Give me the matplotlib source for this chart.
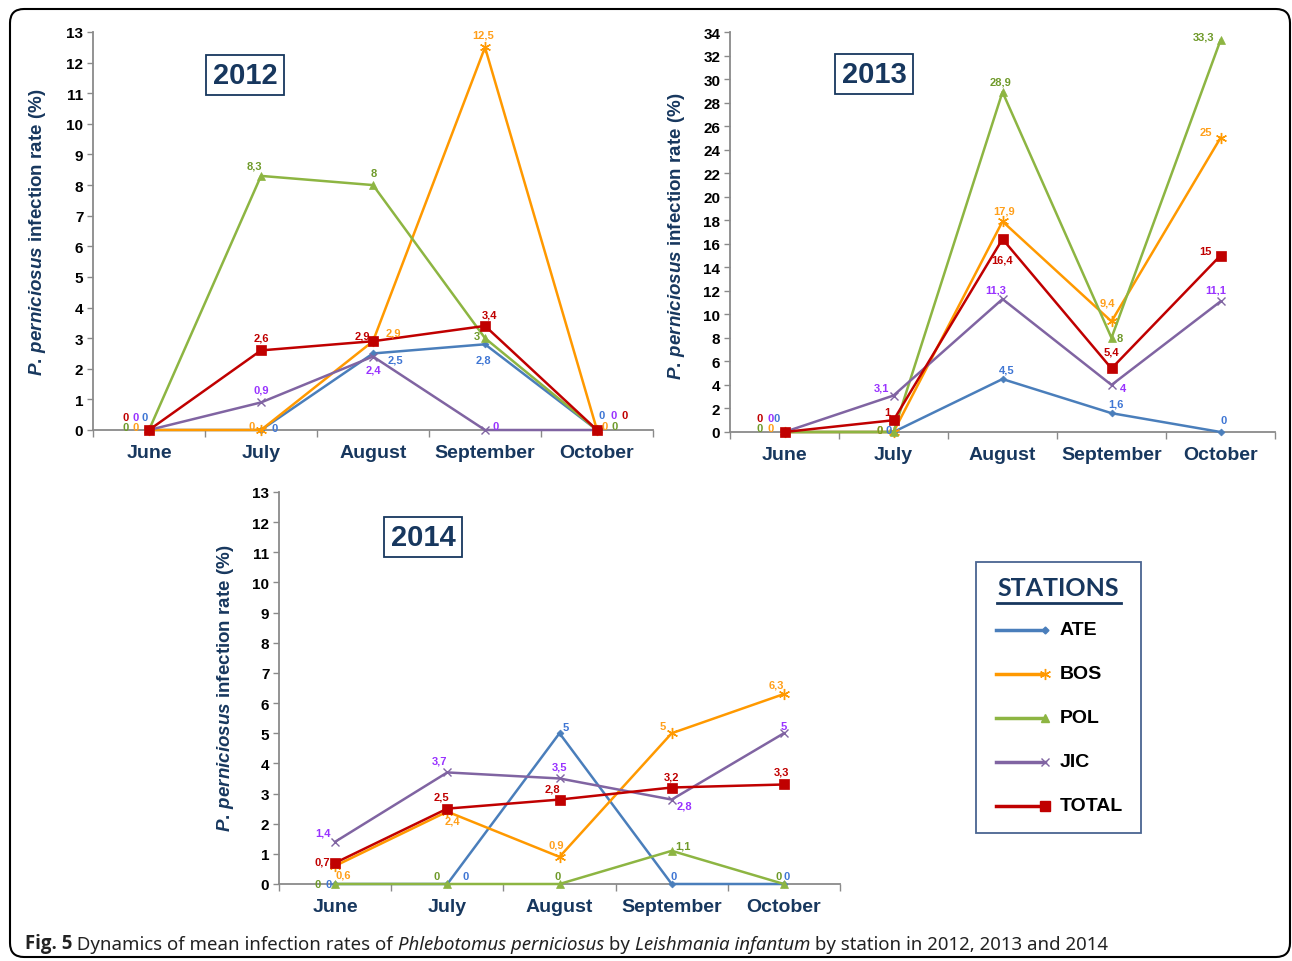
"""
Mean infection rates of P. perniciosus by station, 2012-2014 (three panels + legend).
"""
import matplotlib
import matplotlib.pyplot as plt
from matplotlib.lines import Line2D
from matplotlib.patches import FancyBboxPatch, Rectangle
from matplotlib.transforms import IdentityTransform

plt.rcParams['font.family'] = ['Liberation Sans', 'DejaVu Sans']
plt.rcParams['mathtext.fontset'] = 'custom'
plt.rcParams['mathtext.it'] = 'Liberation Sans:italic:bold'
plt.rcParams['mathtext.rm'] = 'Liberation Sans:bold'

MONTHS = ['June', 'July', 'August', 'September', 'October']
STATIONS = ['ATE', 'BOS', 'POL', 'JIC', 'TOTAL']

# infection rates (%) per station, June..October
ATE_2012 = [0, 0, 2.5, 2.8, 0]
BOS_2012 = [0, 0, 2.9, 12.5, 0]
POL_2012 = [0, 8.3, 8, 3, 0]
JIC_2012 = [0, 0.9, 2.4, 0, 0]
TOTAL_2012 = [0, 2.6, 2.9, 3.4, 0]

ATE_2013 = [0, 0, 4.5, 1.6, 0]
BOS_2013 = [0, 0, 17.9, 9.4, 25]
POL_2013 = [0, 0, 28.9, 8, 33.3]
JIC_2013 = [0, 3.1, 11.3, 4, 11.1]
TOTAL_2013 = [0, 1, 16.4, 5.4, 15]

ATE_2014 = [0, 0, 5, 0, 0]
BOS_2014 = [0.6, 2.4, 0.9, 5, 6.3]
POL_2014 = [0, 0, 0, 1.1, 0]
JIC_2014 = [1.4, 3.7, 3.5, 2.8, 5]
TOTAL_2014 = [0.7, 2.5, 2.8, 3.2, 3.3]

NAVY = '#17375e'
AXIS_GREY = '#8a8a8a'

STYLE = {
    'ATE':   dict(color='#4a7ebb', label='#3f76d4', marker='D', ms=3.5),
    'BOS':   dict(color='#ff9900', label='#ff9f1a', marker=(6, 2, 0), ms=8),
    'POL':   dict(color='#8db542', label='#6f9a2a', marker='^', ms=6),
    'JIC':   dict(color='#8064a2', label='#9933ff', marker='x', ms=6),
    'TOTAL': dict(color='#c00000', label='#c00000', marker='s', ms=7.5),
}

# data-label offsets in pixels (dx right, dy down), one per month
OFFSETS = {
    2012: {
        'ATE':   [(-4, -13), (14, -2), (22, 6), (-2, 15), (5, -15)],
        'BOS':   [(-13, -3), (-9, -4), (20, -9), (-2, -13), (8, -4)],
        'POL':   [(-23, -3), (-7, -10), (1, -12), (-8, -2), (18, -4)],
        'JIC':   [(-13, -13), (0, -13), (0, 13), (11, -4), (17, -15)],
        'TOTAL': [(-23, -13), (0, -13), (-11, -6), (5, -11), (28, -15)],
    },
    2013: {
        'ATE':   [(-8, -14), (-5, -2), (4, -10), (4, -10), (3, -12)],
        'BOS':   [(-14, -4), (-14, -2), (2, -11), (-4, -19), (-15, -6)],
        'POL':   [(-25, -4), (-14, -2), (-2, -11), (8, 0), (-17, -4)],
        'JIC':   [(-14, -14), (-12, -8), (-7, -10), (12, 3), (-5, -12)],
        'TOTAL': [(-25, -14), (-6, -8), (0, 20), (0, -17), (-15, -5)],
    },
    2014: {
        'ATE':   [(-6, 0), (18, -8), (6, -6), (2, -8), (3, -8)],
        'BOS':   [(8, 9), (5, 9), (-3, -12), (-9, -7), (-8, -10)],
        'POL':   [(-17, 0), (-11, -8), (-2, -8), (11, -5), (-5, -8)],
        'JIC':   [(-12, -9), (-8, -12), (0, -12), (13, 6), (0, -7)],
        'TOTAL': [(-13, -1), (-6, -12), (-7, -11), (0, -11), (-2, -13)],
    },
}

W, H = 1292, 962
PX = 72 / 100  # points per pixel at dpi 100


def fmt(v):
    if float(v).is_integer():
        return str(int(v))
    return f'{v}'.replace('.', ',')


def fig_rect(x0, y0, x1, y1):
    """pixel box (top-left origin) -> figure fraction rect"""
    return [x0 / W, 1 - y1 / H, (x1 - x0) / W, (y1 - y0) / H]


def draw_panel(fig, box, year, series, ymax, ystep):
    ax = fig.add_axes(fig_rect(*box))
    xs = list(range(len(MONTHS)))
    for z, name in enumerate(STATIONS):
        st = STYLE[name]
        ax.plot(xs, series[name], color=st['color'], lw=1.8,
                marker=st['marker'], ms=st['ms'], mec=st['color'], mfc=st['color'],
                mew=1.0 if name in ('BOS', 'JIC') else 0.5,
                zorder=3 + z, clip_on=False)
        for i, v in enumerate(series[name]):
            dx, dy = OFFSETS[year][name][i]
            ax.annotate(fmt(v), (i, v), xytext=(dx * PX, -dy * PX),
                        textcoords='offset points', ha='center', va='center',
                        fontsize=8, fontweight='bold', color=st['label'],
                        annotation_clip=False, zorder=10)

    ax.set_xlim(-0.5, len(MONTHS) - 0.5)
    ax.set_ylim(0, ymax)
    ax.set_yticks(range(0, ymax + 1, ystep))
    ax.set_xticks(xs)
    ax.set_xticklabels(MONTHS, fontsize=14, fontweight='bold', color=NAVY)
    ax.set_xticks([i - 0.5 for i in range(len(MONTHS) + 1)], minor=True)
    ax.tick_params(axis='x', which='major', length=0, pad=10)
    ax.tick_params(axis='x', which='minor', length=5, color=AXIS_GREY, width=1)
    ax.tick_params(axis='y', length=4, color=AXIS_GREY, width=1, labelsize=11, pad=3)
    for lab in ax.get_yticklabels():
        lab.set_fontweight('bold')
    for side in ('top', 'right'):
        ax.spines[side].set_visible(False)
    for side in ('left', 'bottom'):
        ax.spines[side].set_color(AXIS_GREY)
        ax.spines[side].set_linewidth(1.3)
    return ax


def main():
    fig = plt.figure(figsize=(W / 100, H / 100), dpi=100)

    panels = [
        (2012, (93, 33, 653, 431), 13, 1, (38, 232), (245, 76),
         dict(ATE=ATE_2012, BOS=BOS_2012, POL=POL_2012, JIC=JIC_2012, TOTAL=TOTAL_2012)),
        (2013, (730, 33, 1275, 433), 34, 2, (676, 236), (874, 75),
         dict(ATE=ATE_2013, BOS=BOS_2013, POL=POL_2013, JIC=JIC_2013, TOTAL=TOTAL_2013)),
        (2014, (279, 493, 840, 885), 13, 1, (226, 688), (423, 538),
         dict(ATE=ATE_2014, BOS=BOS_2014, POL=POL_2014, JIC=JIC_2014, TOTAL=TOTAL_2014)),
    ]
    for year, box, ymax, ystep, ylab_xy, year_xy, series in panels:
        draw_panel(fig, box, year, series, ymax, ystep)
        fig.text(ylab_xy[0] / W, 1 - ylab_xy[1] / H,
                 r'$\mathit{P.\,perniciosus}$ infection rate (%)',
                 rotation=90, ha='center', va='center', fontsize=13.5,
                 fontweight='bold', color=NAVY)
        fig.text(year_xy[0] / W, 1 - year_xy[1] / H, str(year),
                 ha='center', va='center', fontsize=21, fontweight='bold', color=NAVY,
                 bbox=dict(boxstyle='square,pad=0.22', fc='white', ec=NAVY, lw=1.3))

    # legend box
    lax = fig.add_axes(fig_rect(975, 562, 1142, 835))
    lax.set_xlim(975, 1142)
    lax.set_ylim(835, 562)
    lax.axis('off')
    lax.add_patch(Rectangle((976, 563), 165, 271, fill=False, ec='#4a6591', lw=1.3))
    lax.text(1058, 589, 'STATIONS', ha='center', va='center', fontsize=18,
             fontweight='bold', color=NAVY, family=['Lato', 'DejaVu Sans'])
    lax.plot([997, 1121], [604, 604], color=NAVY, lw=2)
    for k, name in enumerate(STATIONS):
        y = 631 + 44 * k
        st = STYLE[name]
        lax.add_line(Line2D([996, 1045], [y, y], color=st['color'], lw=2.5,
                            marker=st['marker'], ms=st['ms'], markevery=[1],
                            mec=st['color'], mfc=st['color']))
        lax.text(1060, y, name, ha='left', va='center', fontsize=14,
                 fontweight='bold', color='black')

    # outer rounded frame
    fig.add_artist(FancyBboxPatch((10, 4), 1280, 948, boxstyle='round,pad=0,rounding_size=14',
                                  fill=False, ec='black', lw=1.5,
                                  transform=IdentityTransform()))

    # caption
    parts = [
        ('Fig. 5', 'bold', 'normal'),
        (' Dynamics of mean infection rates of ', 'normal', 'normal'),
        ('Phlebotomus perniciosus', 'normal', 'italic'),
        (' by ', 'normal', 'normal'),
        ('Leishmania infantum', 'normal', 'italic'),
        (' by station in 2012, 2013 and 2014', 'normal', 'normal'),
    ]
    cap_kw = dict(fontsize=13.4, color='#222222')
    t = fig.text(25 / W, 1 - 954 / H, parts[0][0], fontweight='bold',
                 ha='left', va='bottom', family=['Open Sans', 'DejaVu Sans'], **cap_kw)
    for text, weight, style in parts[1:]:
        t = fig.axes[0].annotate(text, xy=(1, 0), xycoords=t, ha='left', va='bottom',
                                 fontweight=weight, style=style,
                                 family=['Noto Sans', 'DejaVu Sans'],
                                 annotation_clip=False, **cap_kw)

    fig.savefig('out.png', dpi=100)
    plt.close(fig)


if __name__ == '__main__':
    main()
